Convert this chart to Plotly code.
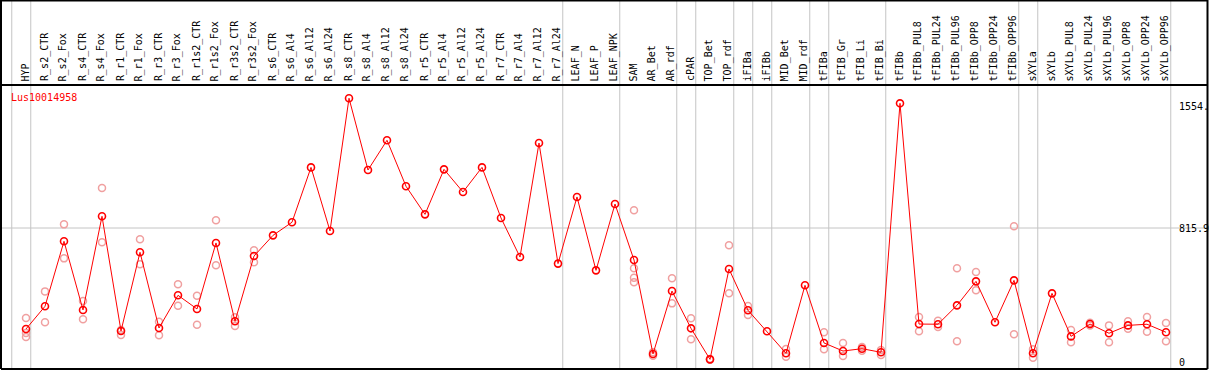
import plotly.graph_objects as go

categories = ["HYP", "R_s2_CTR", "R_s2_Fox", "R_s4_CTR", "R_s4_Fox", "R_r1_CTR", "R_r1_Fox",
              "R_r3_CTR", "R_r3_Fox", "R_r1s2_CTR", "R_r1s2_Fox", "R_r3s2_CTR", "R_r3s2_Fox",
              "R_s6_CTR", "R_s6_Al4", "R_s6_Al12", "R_s6_Al24", "R_s8_CTR", "R_s8_Al4",
              "R_s8_Al12", "R_s8_Al24", "R_r5_CTR", "R_r5_Al4", "R_r5_Al12", "R_r5_Al24",
              "R_r7_CTR", "R_r7_Al4", "R_r7_Al12", "R_r7_Al24", "LEAF_N", "LEAF_P", "LEAF_NPK",
              "SAM", "AR_Bet", "AR_rdf", "cPAR", "TOP_Bet", "TOP_rdf", "iFIBa", "iFIBb",
              "MID_Bet", "MID_rdf", "tFIBa", "tFIB_Gr", "tFIB_Li", "tFIB_Bi", "tFIBb",
              "tFIBb_PUL8", "tFIBb_PUL24", "tFIBb_PUL96", "tFIBb_OPP8", "tFIBb_OPP24",
              "tFIBb_OPP96", "sXYLa", "sXYLb", "sXYLb_PUL8", "sXYLb_PUL24", "sXYLb_PUL96",
              "sXYLb_OPP8", "sXYLb_OPP24", "sXYLb_OPP96"]

means = [201, 339, 735, 317, 887, 189, 668, 207, 406, 323, 725, 248, 645,
         771, 851, 1185, 798, 1606, 1169, 1350, 1070, 899, 1173, 1035, 1185,
         877, 639, 1333, 599, 1005, 558, 962,
         621, 49, 432, 205, 16, 566, 315, 187, 53, 467, 116, 67, 81, 59, 1575,
         231, 230, 345, 491, 242, 497, 53, 418, 156, 231, 175, 223, 230, 181]

replicates = [[268, 177, 152], [430, 242], [838, 631], [371, 260], [1059, 729],
              [195, 164], [747, 595], [245, 163], [473, 343], [404, 227], [863, 589],
              [272, 219], [680, 607],
              [], [], [], [], [], [], [], [], [], [], [], [], [], [], [], [], [], [], [],
              [924, 571, 513, 485], [38, 60], [510, 357], [266, 138], [14, 18],
              [711, 418], [341, 286], [], [79, 32], [], [181, 77], [116, 37], [91, 69],
              [43, 73], [],
              [274, 187], [251, 213], [571, 126], [548, 437], [], [826, 169],
              [77, 26], [], [195, 120], [239, 223], [223, 120], [248, 203], [274, 184],
              [237, 126]]

# last category of each group (a separator line follows it)
group_ends = ["HYP", "R_r7_Al24", "LEAF_NPK", "AR_rdf", "cPAR", "TOP_rdf", "iFIBa",
              "iFIBb", "MID_rdf", "tFIBa", "tFIB_Bi", "tFIBb_OPP96", "sXYLa", "sXYLb_OPP96"]

gene = "Lus10014958"
axis_labels = [(1554, "1554."), (815.9, "815.9"), (0, "0")]

W, H = 1209, 370
X0, DX = 26.0, 19.0          # pixel of first category, pixel step
Y0, K = 362.0, 134.0 / 815.9  # pixel of value 0, px per unit

def px(p):
    return p / W

def py(p):
    return 1 - p / H

RED = "#ff0000"
PINK = "#f0a0a0"
GRID = "#c4c4c4"
FONT = "DejaVu Sans Mono"

fig = go.Figure()

rx, ry = [], []
for i, reps in enumerate(replicates):
    for v in reps:
        rx.append(i)
        ry.append(v)

fig.add_trace(go.Scatter(x=rx, y=ry, mode="markers",
                         marker=dict(symbol="circle-open", size=7, color=PINK,
                                     line=dict(width=1.5, color=PINK)),
                         hoverinfo="skip", showlegend=False))
fig.add_trace(go.Scatter(x=list(range(len(categories))), y=means, mode="lines+markers",
                         line=dict(color=RED, width=1),
                         marker=dict(symbol="circle-open", size=7, color=RED,
                                     line=dict(width=1.6, color=RED)),
                         showlegend=False))

shapes = []
# group separators (full height, through the header)
for name in ["__start__"] + group_ends:
    idx = -1 if name == "__start__" else categories.index(name)
    shapes.append(dict(type="line", xref="x", yref="paper", x0=idx + 0.25, x1=idx + 0.25,
                       y0=py(369), y1=py(0), line=dict(color=GRID, width=1), layer="below"))
# horizontal grid line
shapes.append(dict(type="line", xref="paper", yref="y", x0=px(1), x1=px(1207),
                   y0=815.9, y1=815.9, line=dict(color=GRID, width=1), layer="below"))
# frame
for (a, b, c, d) in [(1, 0.5, 1207.5, 0.5), (1, 85, 1207.5, 85), (1, 369, 1207.5, 369),
                     (1, 0, 1, 369), (1207.5, 0, 1207.5, 369)]:
    shapes.append(dict(type="line", xref="paper", yref="paper", x0=px(a), x1=px(c),
                       y0=py(b), y1=py(d), line=dict(color="black", width=2)))

annotations = []
for i, c in enumerate(categories):
    annotations.append(dict(x=i - 0.03, y=py(83), xref="x", yref="paper", text=c,
                            showarrow=False, textangle=-90, xanchor="center",
                            yanchor="bottom", font=dict(family=FONT, size=10, color="black")))
annotations.append(dict(x=px(9), y=py(97), xref="paper", yref="paper", text=gene,
                        showarrow=False, xanchor="left", yanchor="middle",
                        font=dict(family=FONT, size=10, color=RED)))
for v, t in axis_labels:
    annotations.append(dict(x=px(1177), y=v, xref="paper", yref="y", text=t,
                            showarrow=False, xanchor="left", yanchor="middle",
                            font=dict(family=FONT, size=10, color="black")))

fig.update_layout(
    width=W, height=H, autosize=False,
    margin=dict(l=0, r=0, t=0, b=0),
    paper_bgcolor="white", plot_bgcolor="white",
    xaxis=dict(range=[-X0 / DX, (W - X0) / DX], visible=False, showgrid=False, zeroline=False),
    yaxis=dict(range=[-(H - Y0) / K, Y0 / K], visible=False, showgrid=False, zeroline=False),
    shapes=shapes, annotations=annotations,
)

fig.write_html("out.html", config={"displayModeBar": False},
               post_script="document.body.style.margin='0';document.body.style.overflow='hidden';")
